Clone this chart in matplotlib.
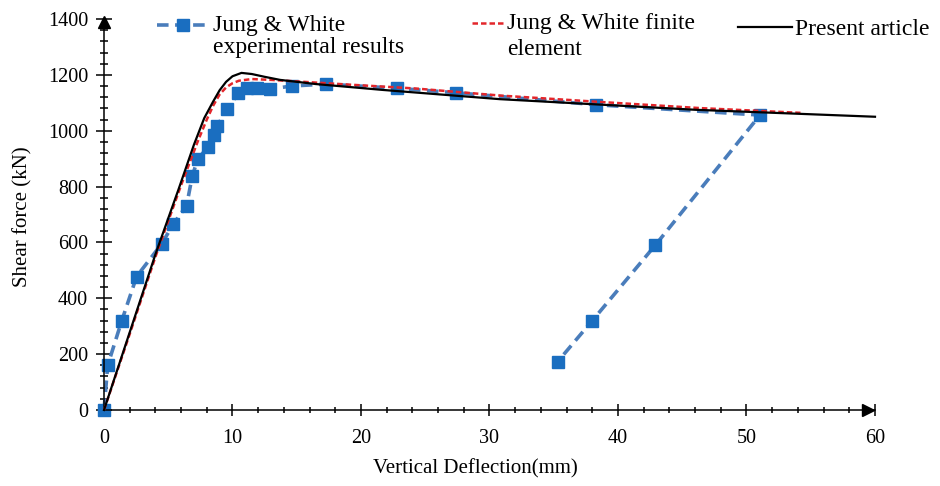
import numpy as np
import matplotlib
matplotlib.use("Agg")
import matplotlib.pyplot as plt
from matplotlib.lines import Line2D
from matplotlib.ticker import MultipleLocator
import matplotlib.transforms as mtransforms

# Figure size (pixels at 100 dpi)
figW, figH, dpi = 940, 486, 100

fontChoice = "Liberation Serif"
tickFont = 14.5
legendFont = 17
labelFont = 15

colourExpLine = '#4a7dbb'
colourExpMark = '#1a6ec0'
colourFE = '#e3262b'
colourPresent = 'black'

plt.rcParams['font.family'] = fontChoice

# Jung & White experimental results (deflection mm, shear kN)
exp_x = [0, 0.29, 1.37, 2.54, 4.49, 5.4, 6.43, 6.87, 7.29, 8.07, 8.59, 8.79, 9.6,
         10.45, 11.1, 11.9, 12.9, 14.6, 17.3, 22.8, 27.4, 38.3, 51.05, 42.9, 38.0, 35.3]
exp_y = [0, 160, 318, 478, 595, 666, 732, 838, 897, 942, 985, 1016, 1078,
         1134, 1154, 1152, 1149, 1160, 1167, 1152, 1136, 1093, 1056, 590, 320, 173]

# Jung & White finite element
fe_x = [0, 2.0, 4.0, 6.0, 7.3, 8.0, 8.5, 9.0, 9.5, 10.0, 10.5, 11.5, 13.0, 15.2,
        19.1, 24.3, 30.8, 38.6, 46.4, 54.2]
fe_y = [0, 272, 548, 805, 962, 1040, 1090, 1130, 1155, 1170, 1179, 1185, 1182, 1176,
        1165, 1151, 1126, 1103, 1081, 1064]

# Present article
pr_x = [0, 2.0, 4.0, 5.8, 7.0, 7.8, 8.5, 9.0, 9.5, 10.0, 10.7, 11.5, 12.5, 13.7,
        16.5, 21.7, 30.8, 46.0, 60.0]
pr_y = [0, 278, 557, 790, 950, 1045, 1105, 1145, 1175, 1195, 1207, 1203, 1193, 1182,
        1167, 1146, 1113, 1075, 1050]

fig = plt.figure(figsize=(figW / dpi, figH / dpi), dpi=dpi)
left, right = 104 / figW, 875 / figW
bottom, top = 1 - 410 / figH, 1 - 19 / figH
ax = fig.add_axes([left, bottom, right - left, top - bottom])

ax.plot(exp_x, exp_y, '--', color=colourExpLine, linewidth=2.6, dashes=(3.2, 1.8),
        marker='s', markersize=9, markerfacecolor=colourExpMark,
        markeredgecolor=colourExpMark, clip_on=False, zorder=2)
ax.plot(fe_x, fe_y, '--', color=colourFE, linewidth=1.8, dashes=(2.2, 1.2),
        clip_on=False, zorder=3)
ax.plot(pr_x, pr_y, '-', color=colourPresent, linewidth=1.6, clip_on=False, zorder=4)

ax.set_xlim(0, 60)
ax.set_ylim(0, 1400)
ax.spines['top'].set_visible(False)
ax.spines['right'].set_visible(False)
for s in ['left', 'bottom']:
    ax.spines[s].set_linewidth(1.1)

ax.xaxis.set_major_locator(MultipleLocator(10))
ax.xaxis.set_minor_locator(MultipleLocator(2))
ax.yaxis.set_major_locator(MultipleLocator(200))
ax.yaxis.set_minor_locator(MultipleLocator(40))
ax.tick_params(axis='y', which='major', direction='inout', length=11, width=1.1,
               pad=6, labelsize=tickFont)
ax.tick_params(axis='y', which='minor', direction='inout', length=6, width=1.1)
ax.tick_params(axis='x', which='major', direction='inout', length=8, width=1.1,
               pad=10, labelsize=tickFont)
ax.tick_params(axis='x', which='minor', direction='inout', length=5, width=1.1)

# Arrow heads at the ends of the axes
arrowUp = mtransforms.offset_copy(ax.transAxes, fig=fig, x=0, y=-2, units='points')
ax.plot([0], [1], marker='^', markersize=8, color='black', transform=arrowUp,
        clip_on=False, zorder=5)
arrowRight = mtransforms.offset_copy(ax.transAxes, fig=fig, x=-5, y=0, units='points')
ax.plot([1], [0], marker='>', markersize=8, color='black', transform=arrowRight,
        clip_on=False, zorder=5)


def px(x, y):
    return x / figW, 1 - y / figH


# Legend drawn by hand, handles aligned with the first text line
h1 = Line2D([px(157, 0)[0], px(210, 0)[0]], [px(0, 25)[1]] * 2, transform=fig.transFigure,
            color=colourExpLine, linewidth=2.6, linestyle='--', dashes=(3.2, 1.8))
fig.add_artist(h1)
m1 = Line2D([px(183, 0)[0]], [px(0, 25)[1]], transform=fig.transFigure, marker='s',
            markersize=9, color=colourExpMark, linestyle='')
fig.add_artist(m1)
fig.text(*px(213, 31), "Jung & White", fontsize=legendFont, va='baseline')
fig.text(*px(213, 53), "experimental results", fontsize=legendFont, va='baseline')

h2 = Line2D([px(472, 0)[0], px(505, 0)[0]], [px(0, 23)[1]] * 2, transform=fig.transFigure,
            color=colourFE, linewidth=1.8, linestyle='--', dashes=(2.2, 1.2))
fig.add_artist(h2)
fig.text(*px(507, 29), "Jung & White finite", fontsize=legendFont, va='baseline')
fig.text(*px(507, 55), "element", fontsize=legendFont, va='baseline')

h3 = Line2D([px(738, 0)[0], px(792, 0)[0]], [px(0, 27)[1]] * 2, transform=fig.transFigure,
            color=colourPresent, linewidth=1.6)
fig.add_artist(h3)
fig.text(*px(795, 35), "Present article", fontsize=legendFont, va='baseline')

# Axis titles
fig.text(*px(23, 217), "Shear force (kN)", fontsize=labelFont, rotation=90,
         ha='center', va='center')
fig.text(*px(475, 469), "Vertical Deflection(mm)", fontsize=labelFont,
         ha='center', va='center')

fig.savefig("out.png", dpi=dpi)
